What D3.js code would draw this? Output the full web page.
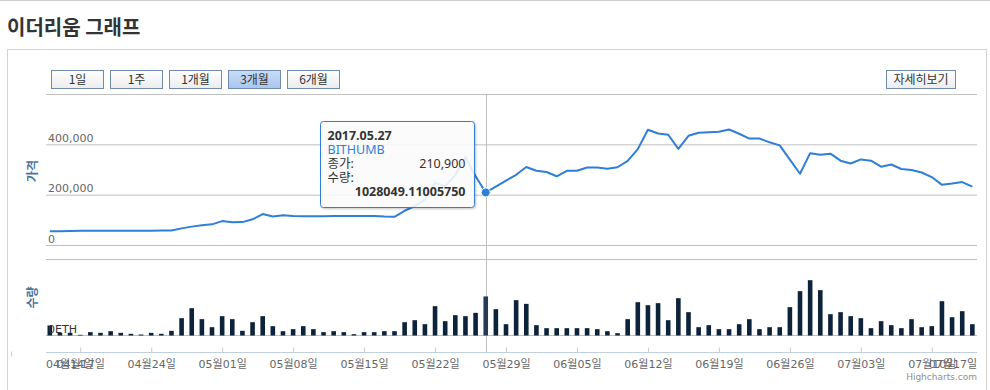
<!DOCTYPE html>
<html>
<head>
<meta charset="utf-8">
<script src="https://cdn.jsdelivr.net/npm/d3@7"></script>
<style>
  body { margin: 0; background: #fff; }
  svg { display: block; font-family: 'DejaVu Sans', 'Noto Sans CJK KR', sans-serif; }
</style>
</head>
<body>
<div id="chart"></div>
<script>
// ---- data ----
const firstDay = new Date(2017, 3, 14);
const lastDay = new Date(2017, 6, 14);
const hoverDay = new Date(2017, 4, 27);
const exchange = 'BITHUMB';

// daily close (KRW)
const prices = [
  57000, 57000, 58000, 59000, 59000, 59000, 58500, 58500, 58500, 59000, 59000, 59500, 60000,
  68000, 75000, 80000, 84000, 97000, 92000, 93000, 104000, 125000, 115000, 120000, 117000,
  116000, 116000, 116000, 117000, 117000, 117000, 117000, 117000, 115000, 114000, 138000,
  157000, 181000, 250000, 235000, 280000, 352000, 275000, 210900, 234000, 258000, 281000,
  312000, 297000, 292000, 275000, 297000, 297000, 310000, 310000, 305000, 311000, 336000,
  383000, 460000, 445000, 440000, 384000, 436000, 448000, 450000, 452000, 461000, 444000,
  425000, 425000, 410000, 398000, 341000, 285000, 367000, 361000, 365000, 337000, 326000,
  342000, 337000, 313000, 322000, 304000, 300000, 290000, 272000, 241000, 246000, 252000, 234000
];

// daily volume (ETH)
const volumes = [
  263000, 70000, 70000, 18000, 88000, 70000, 114000, 70000, 44000, 26000, 70000, 44000, 123000,
  456000, 719000, 430000, 219000, 509000, 430000, 123000, 351000, 509000, 246000, 114000, 167000,
  246000, 167000, 88000, 114000, 88000, 35000, 88000, 88000, 114000, 114000, 351000, 403000,
  298000, 772000, 377000, 535000, 509000, 596000, 1028049.11005750, 693000, 298000, 930000,
  833000, 272000, 193000, 193000, 193000, 193000, 193000, 167000, 114000, 61000, 430000, 877000,
  798000, 851000, 403000, 982000, 614000, 219000, 272000, 167000, 167000, 298000, 430000, 167000,
  219000, 219000, 746000, 1167000, 1456000, 1193000, 561000, 614000, 509000, 456000, 193000,
  377000, 272000, 193000, 430000, 219000, 246000, 903000, 482000, 640000, 298000
];

const rangeButtons = ['1일', '1주', '1개월', '3개월', '6개월'];
const activeRange = '3개월';
const detailButton = '자세히보기';
const priceGrid = [0, 200000, 400000, 600000];
const priceLabels = [0, 200000, 400000];
const volumeGrid = [0, 2000000];
const edgeLabels = ['04월14일', '07월17일'];

// ---- layout ----
const width = 990, height = 390;
const plot = {left: 46, right: 977};
const pricePane = {top: 94.5, bottom: 245.5};
const volumePane = {top: 259.5, bottom: 335.5};
const axisY = 352.5;
const lineColor = '#2f7ed8';
const barColor = '#0d233a';
const gridColor = '#c0c0c0';

const days = d3.timeDay.range(firstDay, d3.timeDay.offset(lastDay, 1));
const data = days.map((date, i) => ({date, price: prices[i], volume: volumes[i]}));
const hovered = data.find(d => +d.date === +hoverDay);

const svg = d3.select('#chart').append('svg').attr('width', width).attr('height', height);

const defs = svg.append('defs');
const btnGrad = defs.append('linearGradient').attr('id', 'btn').attr('x1', 0).attr('y1', 0).attr('x2', 0).attr('y2', 1);
btnGrad.append('stop').attr('offset', 0).attr('stop-color', '#ffffff');
btnGrad.append('stop').attr('offset', 1).attr('stop-color', '#ececec');
const actGrad = defs.append('linearGradient').attr('id', 'btnActive').attr('x1', 0).attr('y1', 0).attr('x2', 0).attr('y2', 1);
actGrad.append('stop').attr('offset', 0).attr('stop-color', '#c9dcf5');
actGrad.append('stop').attr('offset', 1).attr('stop-color', '#a9c6ee');
const shadow = defs.append('filter').attr('id', 'shadow').attr('x', '-10%').attr('y', '-10%').attr('width', '130%').attr('height', '130%');
shadow.append('feDropShadow').attr('dx', 1).attr('dy', 1).attr('stdDeviation', 1).attr('flood-opacity', 0.25);

// page chrome
svg.append('line').attr('x1', 0).attr('x2', width).attr('y1', 0.5).attr('y2', 0.5).attr('stroke', '#cccccc');
svg.append('text')
  .attr('x', 7).attr('y', 35)
  .style('font-family', "'Noto Sans CJK KR', sans-serif")
  .style('font-size', '20px').style('font-weight', 'bold').attr('fill', '#333')
  .text('이더리움 그래프');
svg.append('rect')
  .attr('x', 7.5).attr('y', 49.5).attr('width', 979).attr('height', 360)
  .attr('fill', 'none').attr('stroke', '#d3d3d3');

// range buttons
const btnW = 52, btnH = 18, btnStep = 59;
const btns = svg.append('g').attr('class', 'buttons')
  .selectAll('g').data(rangeButtons).join('g')
  .attr('transform', (d, i) => `translate(${51.5 + i * btnStep},70.5)`);
btns.append('rect')
  .attr('width', btnW).attr('height', btnH)
  .attr('fill', d => d === activeRange ? 'url(#btnActive)' : 'url(#btn)')
  .attr('stroke', '#6f8bb0');
btns.append('text')
  .attr('x', btnW / 2).attr('y', 13.5).attr('text-anchor', 'middle')
  .style('font-family', "'Noto Sans CJK KR', sans-serif").style('font-size', '12px')
  .attr('fill', '#333').text(d => d);

const detail = svg.append('g').attr('transform', 'translate(886.5,70.5)');
detail.append('rect').attr('width', 69).attr('height', btnH).attr('fill', 'url(#btn)').attr('stroke', '#6f8bb0');
detail.append('text').attr('x', 34.5).attr('y', 13.5).attr('text-anchor', 'middle')
  .style('font-family', "'Noto Sans CJK KR', sans-serif").style('font-size', '12px')
  .attr('fill', '#333').text(detailButton);

// scales
const x = d3.scaleTime()
  .domain([d3.timeHour.offset(firstDay, -9), d3.timeHour.offset(lastDay, 11)])
  .range([plot.left, plot.right]);
const yPrice = d3.scaleLinear().domain([0, 600000]).range([pricePane.bottom, pricePane.top]);
const yVol = d3.scaleLinear().domain([0, 2000000]).range([volumePane.bottom, volumePane.top]);
const fmt = d3.format(',');

// price grid + labels
svg.append('g').selectAll('line').data(priceGrid).join('line')
  .attr('x1', plot.left).attr('x2', plot.right)
  .attr('y1', d => yPrice(d)).attr('y2', d => yPrice(d))
  .attr('stroke', gridColor);
svg.append('g').selectAll('text').data(priceLabels).join('text')
  .attr('x', 48).attr('y', d => yPrice(d) - 3)
  .style('font-size', '11px').attr('fill', '#666').text(d => fmt(d));

// volume grid + label
svg.append('g').selectAll('line').data(volumeGrid).join('line')
  .attr('x1', plot.left).attr('x2', plot.right)
  .attr('y1', d => yVol(d)).attr('y2', d => yVol(d))
  .attr('stroke', gridColor);

// axis titles
const titleStyle = sel => sel
  .attr('text-anchor', 'middle')
  .style('font-family', "'Noto Sans CJK KR', sans-serif")
  .style('font-size', '12px').style('font-weight', 'bold').attr('fill', '#4d759e');
svg.append('text').call(titleStyle)
  .attr('transform', `translate(37,${(pricePane.top + pricePane.bottom) / 2 + 1}) rotate(-90)`)
  .text('가격');
svg.append('text').call(titleStyle)
  .attr('transform', `translate(37,${(volumePane.top + volumePane.bottom) / 2}) rotate(-90)`)
  .text('수량');

// crosshair
svg.append('line')
  .attr('x1', Math.round(x(hoverDay)) + 0.5).attr('x2', Math.round(x(hoverDay)) + 0.5)
  .attr('y1', pricePane.top).attr('y2', axisY)
  .attr('stroke', gridColor);

// volume bars
const barW = 4.6;
svg.append('g').attr('class', 'bars')
  .selectAll('rect').data(data).join('rect')
  .attr('x', d => x(d.date) - barW / 2)
  .attr('y', d => yVol(d.volume))
  .attr('width', barW)
  .attr('height', d => yVol(0) - yVol(d.volume))
  .attr('fill', d => d === hovered ? '#263b53' : barColor);

svg.append('text')
  .attr('x', 48).attr('y', yVol(0) - 3)
  .style('font-size', '11px').attr('fill', '#333').text('0ETH');

// x axis
svg.append('line').attr('x1', plot.left).attr('x2', plot.right)
  .attr('y1', axisY).attr('y2', axisY).attr('stroke', '#c0d0e0');
svg.append('line').attr('x1', 11.5).attr('x2', 11.5).attr('y1', axisY - 1).attr('y2', axisY + 4).attr('stroke', '#c0d0e0');
const xAxis = d3.axisTop(x)
  .ticks(d3.timeMonday.every(1))
  .tickSize(5)
  .tickFormat(d3.timeFormat('%m월%d일'));
const gx = svg.append('g').attr('transform', `translate(0,${axisY})`).call(xAxis);
gx.select('.domain').remove();
gx.selectAll('.tick line').attr('stroke', '#c0d0e0');
gx.selectAll('.tick text')
  .attr('y', 15).attr('dy', 0)
  .style('font-family', "'DejaVu Sans', 'Noto Sans CJK KR', sans-serif")
  .style('font-size', '11px').attr('fill', '#666');
svg.append('g').selectAll('text').data(edgeLabels).join('text')
  .attr('x', (d, i) => i === 0 ? plot.left : plot.right)
  .attr('y', axisY + 15)
  .attr('text-anchor', (d, i) => i === 0 ? 'start' : 'end')
  .style('font-size', '11px').attr('fill', '#666').text(d => d);

// price line
svg.append('path')
  .datum(data)
  .attr('d', d3.line().x(d => x(d.date)).y(d => yPrice(d.price)))
  .attr('fill', 'none').attr('stroke', lineColor)
  .attr('stroke-width', 2).attr('stroke-linejoin', 'round');

svg.append('circle')
  .attr('cx', x(hovered.date)).attr('cy', yPrice(hovered.price)).attr('r', 4.5)
  .attr('fill', lineColor).attr('stroke', '#fff').attr('stroke-width', 1);

// tooltip
const tipW = 154, tipH = 86;
const tipX = Math.round(x(hovered.date) - 12 - tipW) + 0.5;
const tipY = Math.round(yPrice(hovered.price) + 15 - tipH) + 0.5;
const tip = svg.append('g').attr('transform', `translate(${tipX},${tipY})`)
  .style('font-family', "'Noto Sans', 'Noto Sans CJK KR', sans-serif")
  .style('font-size', '12.5px');
tip.append('rect')
  .attr('width', tipW).attr('height', tipH).attr('rx', 3)
  .attr('fill', '#fff').attr('fill-opacity', 0.85)
  .attr('stroke', lineColor).attr('filter', 'url(#shadow)');
tip.append('text').attr('x', 7).attr('y', 18.5).attr('fill', '#333').style('font-weight', 'bold')
  .text(d3.timeFormat('%Y.%m.%d')(hovered.date));
tip.append('text').attr('x', 7).attr('y', 32.5).attr('fill', lineColor).text(exchange);
tip.append('text').attr('x', 7).attr('y', 46.5).attr('fill', '#333').text('종가:');
tip.append('text').attr('x', tipW - 9).attr('y', 46.5).attr('text-anchor', 'end').attr('fill', '#333')
  .text(fmt(hovered.price));
tip.append('text').attr('x', 7).attr('y', 60.5).attr('fill', '#333').text('수량:');
tip.append('text').attr('x', tipW - 9).attr('y', 74.5).attr('text-anchor', 'end').attr('fill', '#333')
  .style('font-weight', 'bold').text(hovered.volume.toFixed(8));

// credit
svg.append('text')
  .attr('x', plot.right).attr('y', 380).attr('text-anchor', 'end')
  .style('font-size', '9px').attr('fill', '#909090').text('Highcharts.com');
</script>
</body>
</html>
